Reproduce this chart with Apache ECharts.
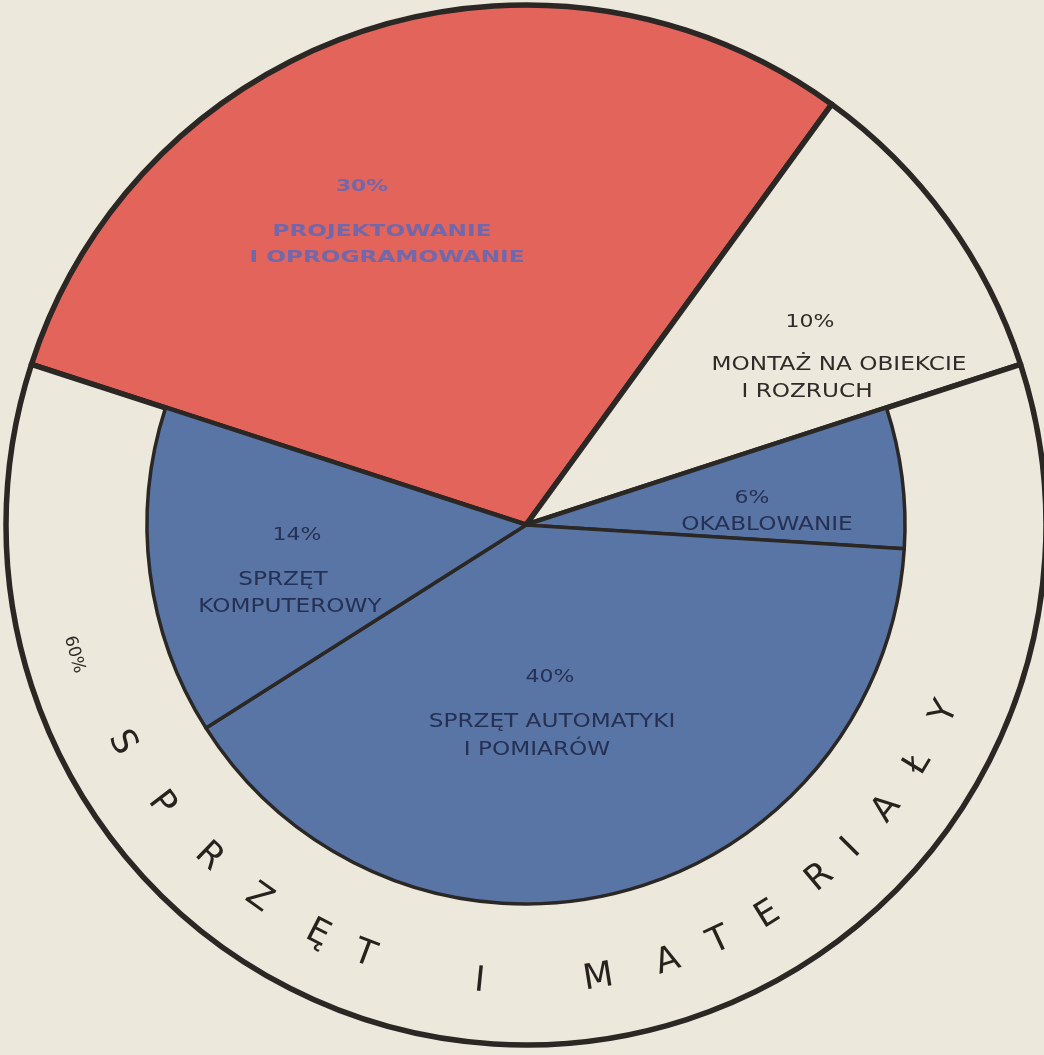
<!DOCTYPE html>
<html><head><meta charset="utf-8">
<script src="https://cdn.jsdelivr.net/npm/echarts@6/dist/echarts.min.js"></script>
<style>html,body{margin:0;padding:0;background:#ece8db}#c{width:1044px;height:1055px}</style>
</head><body><div id="c"></div>
<script>
// ---- data ----
const outerNames = ['PROJEKTOWANIE I OPROGRAMOWANIE', 'MONTAŻ NA OBIEKCIE I ROZRUCH', 'SPRZĘT I MATERIAŁY'];
const outerValues = [30, 10, 60];
const innerNames = ['PROJEKTOWANIE I OPROGRAMOWANIE', 'MONTAŻ NA OBIEKCIE I ROZRUCH', 'OKABLOWANIE', 'SPRZĘT AUTOMATYKI I POMIARÓW', 'SPRZĘT KOMPUTEROWY'];
const innerValues = [30, 10, 6, 40, 14];
const labelLines = [['PROJEKTOWANIE', 'I OPROGRAMOWANIE'], ['MONTAŻ NA OBIEKCIE', 'I ROZRUCH'], ['OKABLOWANIE'], ['SPRZĘT AUTOMATYKI', 'I POMIARÓW'], ['SPRZĘT', 'KOMPUTEROWY']];
const ringTitle = 'SPRZĘT I MATERIAŁY';

// ---- layout / style ----
const CX = 526, CY = 525, R_OUT = 520, R_IN = 379;
const BG = '#ece8db', RED = '#e2645a', BLUE = '#5875a5', INK = '#2b2724';
const outerColors = [RED, BG, BG];
const labelLayout = [
  {pct: [362, 187], lines: [[382, 232], [387, 258]], color: '#7068ab', size: 16, sx: 1.45, weight: 'bold'},
  {pct: [810, 322], lines: [[839, 365], [807, 392]], color: '#2e2b28', size: 19, sx: 1.22, weight: 'normal'},
  {pct: [752, 498], lines: [[767, 525]], color: '#263052', size: 19, sx: 1.22, weight: 'normal'},
  {pct: [550, 677], lines: [[552, 722], [537, 750]], color: '#263052', size: 19, sx: 1.22, weight: 'normal'},
  {pct: [297, 535], lines: [[283, 580], [290, 607]], color: '#263052', size: 19, sx: 1.22, weight: 'normal'}
];
const letterAngles = [151.7, 142.6, 133.7, 125.6, 117.0, 110.6, 95.8, 80.9, 72.0, 65.1, 58.2, 50.2, 44.8, 38.2, 31.3, 24.1];
const LETTER_R = 459;
const ringPctAngle = 164, ringPctR = 470;

const chart = echarts.init(document.getElementById('c'), null, {renderer: 'canvas'});

const graphics = [];
function txt(x, y, s, size, color, sx, weight, rot) {
  graphics.push({
    type: 'text', x: x, y: y, rotation: rot || 0, scaleX: sx || 1, scaleY: 1, silent: true, z: 100,
    style: {text: s, fill: color, font: (weight || 'normal') + ' ' + size + 'px "DejaVu Sans", sans-serif', align: 'center', verticalAlign: 'middle'}
  });
}
innerValues.forEach((v, i) => {
  const L = labelLayout[i];
  txt(L.pct[0], L.pct[1], v + '%', L.size - 1, L.color, L.sx, L.weight);
  labelLines[i].forEach((line, j) => txt(L.lines[j][0], L.lines[j][1], line, L.size, L.color, L.sx, L.weight));
});
// ring title along the arc
const chars = ringTitle.replace(/ /g, '').split('');
chars.forEach((ch, i) => {
  const a = letterAngles[i] * Math.PI / 180;
  graphics.push({
    type: 'text', x: CX + LETTER_R * Math.cos(a), y: CY + LETTER_R * Math.sin(a),
    rotation: -(letterAngles[i] - 90) * Math.PI / 180, silent: true, z: 100,
    style: {text: ch, fill: '#26231f', font: 'normal 35px "DejaVu Sans", sans-serif', align: 'center', verticalAlign: 'middle'}
  });
});
{
  const a = ringPctAngle * Math.PI / 180;
  graphics.push({
    type: 'text', x: CX + ringPctR * Math.cos(a), y: CY + ringPctR * Math.sin(a),
    rotation: -(ringPctAngle - 90) * Math.PI / 180, silent: true, z: 100,
    style: {text: outerValues[2] + '%', fill: '#2e2b28', font: 'normal 17px "DejaVu Sans", sans-serif', align: 'center', verticalAlign: 'middle'}
  });
}

chart.setOption({
  backgroundColor: BG,
  animation: false,
  series: [
    {
      type: 'pie', center: [CX, CY], radius: [0, R_OUT], startAngle: 162, clockwise: true, silent: true,
      label: {show: false}, labelLine: {show: false}, emphasis: {disabled: true}, z: 1,
      itemStyle: {borderColor: INK, borderWidth: 5.5},
      data: outerValues.map((v, i) => ({value: v, name: outerNames[i], itemStyle: {color: outerColors[i]}}))
    },
    {
      type: 'pie', center: [CX, CY], radius: [0, R_IN], startAngle: 162, clockwise: true, silent: true,
      label: {show: false}, labelLine: {show: false}, emphasis: {disabled: true}, z: 2,
      data: innerValues.map((v, i) => ({
        value: v, name: innerNames[i],
        itemStyle: i < 2 ? {color: 'rgba(0,0,0,0)', borderWidth: 0} : {color: BLUE, borderColor: INK, borderWidth: 3.5}
      }))
    }
  ],
  graphic: graphics
});
</script>
</body></html>
